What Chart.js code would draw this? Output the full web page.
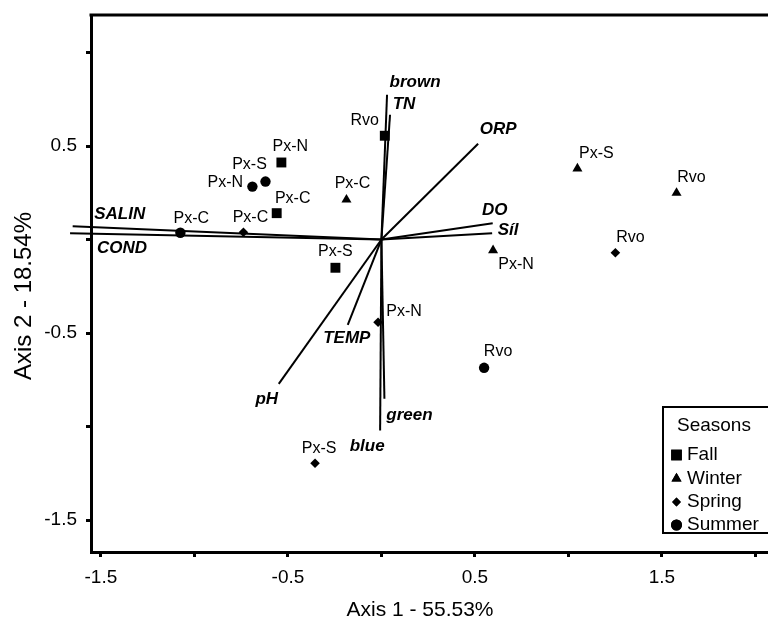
<!DOCTYPE html>
<html><head><meta charset="utf-8">
<script src="https://cdn.jsdelivr.net/npm/chart.js@4/dist/chart.umd.min.js"></script>
<style>html,body{margin:0;padding:0;background:#fff;overflow:hidden;}#wrap{width:800px;height:617px;}</style>
</head><body><div id="wrap"><canvas id="c" width="800" height="617"></canvas></div>
<script>
// ---- data ----
const seasons = ['Fall', 'Winter', 'Spring', 'Summer'];
const fallSites = ['Rvo', 'Px-N', 'Px-C', 'Px-S'];
const fallX = [0.018, -0.535, -0.560, -0.246];
const fallY = [0.555, 0.412, 0.141, -0.151];
const winterSites = ['Px-S', 'Rvo', 'Px-C', 'Px-N'];
const winterX = [1.048, 1.578, -0.187, 0.597];
const winterY = [0.379, 0.249, 0.213, -0.058];
const springSites = ['Px-C', 'Rvo', 'Px-N', 'Px-S'];
const springX = [-0.738, 1.251, -0.018, -0.355];
const springY = [0.039, -0.071, -0.442, -1.196];
const summerSites = ['Px-N', 'Px-S', 'Px-C', 'Rvo'];
const summerX = [-0.690, -0.620, -1.075, 0.549];
const summerY = [0.283, 0.310, 0.036, -0.686];

const vectorNames = ['brown', 'TN', 'ORP', 'DO', 'Síl', 'SALIN', 'COND', 'pH', 'TEMP', 'green', 'blue'];
const vectorX = [0.030, 0.046, 0.517, 0.595, 0.592, -1.651, -1.665, -0.549, -0.180, 0.016, -0.007];
const vectorY = [0.774, 0.667, 0.512, 0.087, 0.034, 0.071, 0.034, -0.772, -0.456, -0.852, -1.021];

const xTitle = 'Axis 1 - 55.53%';
const yTitle = 'Axis 2 - 18.54%';
const legendTitle = 'Seasons';

// ---- label placement (pixel offsets from marks) ----
const fallOff = [[-20,-15],[9,-16],[16,-15],[0,-16]];
const winterOff = [[19,-15],[15,-15],[6,-16],[23,14]];
const springOff = [[7,-15],[15,-15],[26,-11],[4,-15]];
const summerOff = [[-27,-4],[-16,-17],[11,-14],[14,-16]];
const vectorOff = [[28,-12],[14,-10],[20,-14],[2,-13],[16,-3],[47,-12],[52,15],[-12,15],[-1,14],[25,16],[-13,16]];

const FONT = '"Liberation Sans", Arial, Helvetica, sans-serif';

function pts(xs, ys) { return xs.map((x, i) => ({x: x, y: ys[i]})); }

const styles = [
  {pointStyle: 'rect', radius: 7},
  {pointStyle: 'triangle', radius: 5.8},
  {pointStyle: 'rectRot', radius: 4.8},
  {pointStyle: 'circle', radius: 5.2}
];
const seasonSites = [fallSites, winterSites, springSites, summerSites];
const seasonX = [fallX, winterX, springX, summerX];
const seasonY = [fallY, winterY, springY, summerY];
const seasonOff = [fallOff, winterOff, springOff, summerOff];

const datasets = [];
vectorNames.forEach((n, i) => {
  datasets.push({
    label: n, type: 'scatter', showLine: true, clip: false,
    data: [{x: 0, y: 0}, {x: vectorX[i], y: vectorY[i]}],
    borderColor: '#000', borderWidth: 2, pointRadius: 0, pointHoverRadius: 0,
    isVector: true, vIndex: i
  });
});
seasons.forEach((s, k) => {
  datasets.push({
    label: s, type: 'scatter',
    data: pts(seasonX[k], seasonY[k]),
    pointStyle: styles[k].pointStyle, pointRadius: styles[k].radius, pointHoverRadius: styles[k].radius,
    backgroundColor: '#000', borderColor: '#000', borderWidth: 0,
    sIndex: k
  });
});

const labelPlugin = {
  id: 'labels',
  afterDatasetsDraw(chart) {
    const ctx = chart.ctx;
    const xs = chart.scales.x, ys = chart.scales.y;
    ctx.save();
    ctx.fillStyle = '#000';
    ctx.textAlign = 'center';
    ctx.textBaseline = 'middle';
    ctx.font = 'italic bold 17px ' + FONT;
    vectorNames.forEach((n, i) => {
      const px = xs.getPixelForValue(vectorX[i]);
      const py = ys.getPixelForValue(vectorY[i]);
      ctx.fillText(n, px + vectorOff[i][0], py + vectorOff[i][1]);
    });
    ctx.font = '16px ' + FONT;
    chart.data.datasets.forEach((ds, di) => {
      if (ds.sIndex === undefined) return;
      const meta = chart.getDatasetMeta(di);
      const k = ds.sIndex;
      meta.data.forEach((el, i) => {
        ctx.fillText(seasonSites[k][i], el.x + seasonOff[k][i][0], el.y + seasonOff[k][i][1]);
      });
    });
    ctx.restore();
  },
  afterDraw(chart) {
    const ctx = chart.ctx;
    const a = chart.chartArea;
    ctx.save();
    ctx.strokeStyle = '#000';
    ctx.lineWidth = 3;
    ctx.beginPath();
    ctx.moveTo(a.left - 1.5, a.top);
    ctx.lineTo(a.right, a.top);
    ctx.lineTo(a.right, a.bottom);
    ctx.stroke();
    ctx.fillStyle = '#000';
    ctx.font = '21px ' + FONT;
    ctx.textAlign = 'center';
    ctx.textBaseline = 'alphabetic';
    ctx.fillText(xTitle, 420, 616);
    ctx.save();
    ctx.translate(31, 296);
    ctx.rotate(-Math.PI / 2);
    ctx.font = '24px ' + FONT;
    ctx.fillText(yTitle, 0, 0);
    ctx.restore();
    const lx = 663, ly = 407, lw = 160, lh = 126;
    ctx.fillStyle = '#fff';
    ctx.fillRect(lx, ly, lw, lh);
    ctx.lineWidth = 2;
    ctx.strokeRect(lx, ly, lw, lh);
    ctx.fillStyle = '#000';
    ctx.font = '19px ' + FONT;
    ctx.textAlign = 'left';
    ctx.textBaseline = 'middle';
    ctx.fillText(legendTitle, 677, 426);
    const rows = [455, 478.5, 502, 525];
    const lr = [7.5, 5.8, 4.4, 5.5];
    seasons.forEach((s, k) => {
      Chart.helpers.drawPoint(ctx, {pointStyle: styles[k].pointStyle, radius: lr[k], rotation: 0, borderWidth: 0}, 676.5, rows[k]);
      ctx.fillStyle = '#000';
      ctx.fill();
      ctx.fillText(s, 687, rows[k]);
    });
    ctx.restore();
  }
};

function halfLabel(v) {
  const h = Math.round(v * 2);
  return (Math.abs(h) % 2 === 1) ? v.toFixed(1) : '';
}
function zeroPad(s) { s.paddingTop = 0; s.paddingBottom = 0; s.paddingLeft = 0; s.paddingRight = 0; }

new Chart(document.getElementById('c'), {
  type: 'scatter',
  data: {datasets: datasets},
  options: {
    responsive: false,
    animation: false,
    devicePixelRatio: 1,
    layout: {padding: {top: 15, right: 15, left: 0, bottom: 0}},
    plugins: {legend: {display: false}, tooltip: {enabled: false}},
    scales: {
      x: {
        type: 'linear', min: -1.553, max: 2.158,
        afterFit(s) { s.height = 65; zeroPad(s); },
        border: {display: true, width: 3, color: '#000'},
        grid: {display: true, drawOnChartArea: false, drawTicks: true, tickLength: 5, lineWidth: 3, color: '#000'},
        ticks: {stepSize: 0.5, includeBounds: false, autoSkip: false, maxRotation: 0, padding: 9, color: '#000',
          font: {family: FONT, size: 19}, callback: (v) => halfLabel(v)}
      },
      y: {
        type: 'linear', min: -1.671, max: 1.2007,
        afterFit(s) { s.width = 91; zeroPad(s); },
        border: {display: true, width: 3, color: '#000'},
        grid: {display: true, drawOnChartArea: false, drawTicks: true, tickLength: 5, lineWidth: 3, color: '#000'},
        ticks: {stepSize: 0.5, includeBounds: false, autoSkip: false, padding: 9, color: '#000',
          font: {family: FONT, size: 19}, callback: (v) => halfLabel(v)}
      }
    }
  },
  plugins: [labelPlugin]
});
</script>
</body></html>
